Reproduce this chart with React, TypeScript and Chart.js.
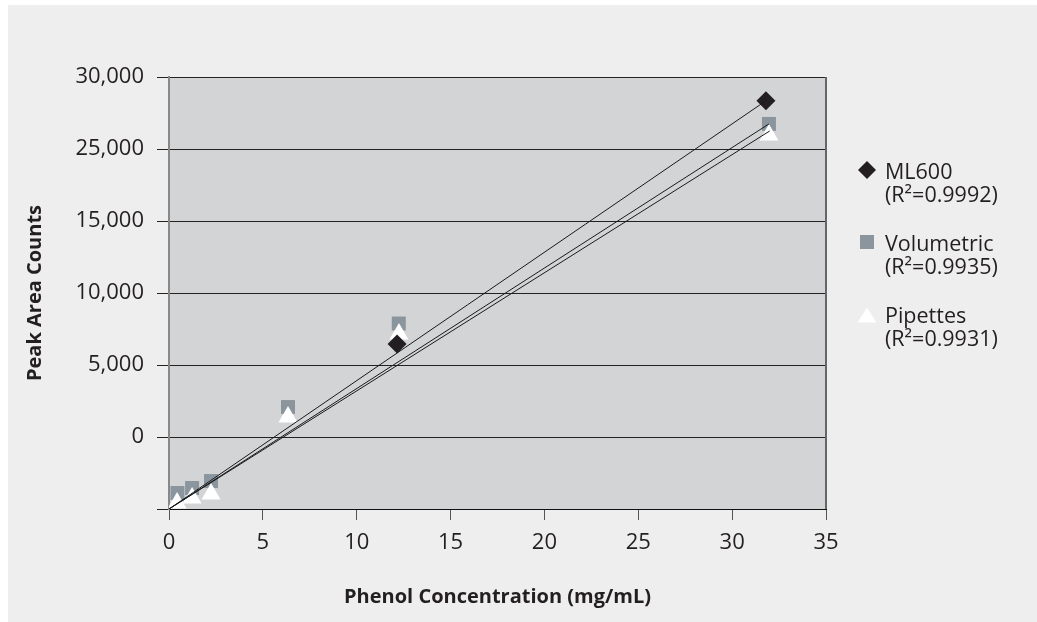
import React, { useEffect, useRef } from 'react';
import { Chart, registerables } from 'chart.js';

Chart.register(...registerables);

// Data (x: mg/mL, y: peak area counts on the plotted scale)
const ml600X = [12.15, 31.8];
const ml600Y = [11450, 28350];
const volX = [0.45, 1.23, 2.24, 6.34, 12.24, 31.96];
const volY = [1110, 1460, 1940, 7080, 12880, 26740];
const pipX = [0.43, 1.23, 2.24, 6.34, 12.25, 31.96];
const pipY = [420, 760, 1040, 6390, 12150, 25970];

// Trend lines (start, end)
const trendMLX = [0, 31.8];
const trendMLY = [0, 28350];
const trendVolX = [0, 31.96];
const trendVolY = [0, 26740];
const trendPipX = [0, 32.0];
const trendPipY = [0, 26250];

const yTickValues = [0, 5000, 10000, 15000, 20000, 25000, 30000];
const yTickLabels = ['', '0', '5,000', '10,000', '15,000', '25,000', '30,000'];
const xTickValues = [0, 5, 10, 15, 20, 25, 30, 35];

const legendNames = ['ML600', 'Volumetric', 'Pipettes'];
const legendR2 = ['(R\u00B2=0.9992)', '(R\u00B2=0.9935)', '(R\u00B2=0.9931)'];

const FONT = "'Open Sans', 'Noto Sans', sans-serif";
const TEXT = '#231f20';

const pts = (xs: number[], ys: number[]) => xs.map((x, i) => ({ x, y: ys[i] }));

const bgPlugin = {
  id: 'plotBg',
  beforeDraw(chart: any) {
    const { ctx, chartArea: a } = chart;
    ctx.save();
    ctx.fillStyle = '#d3d4d6';
    ctx.fillRect(a.left, a.top, a.right - a.left, a.bottom - a.top);
    ctx.restore();
  },
  afterDatasetsDraw(chart: any) {
    const { ctx, chartArea: a } = chart;
    ctx.save();
    ctx.strokeStyle = '#666';
    ctx.lineWidth = 2;
    ctx.beginPath();
    ctx.moveTo(a.right, a.top);
    ctx.lineTo(a.right, a.bottom);
    ctx.stroke();
    ctx.restore();
  },
};

export default function App() {
  const ref = useRef<HTMLCanvasElement>(null);

  useEffect(() => {
    if (!ref.current) return;
    const lineDs = (xs: number[], ys: number[]) => ({
      type: 'scatter' as const,
      data: pts(xs, ys),
      showLine: true,
      borderColor: '#1a1a1a',
      borderWidth: 1,
      pointRadius: 0,
      fill: false,
      order: -1,
    });
    const chart = new Chart(ref.current, {
      type: 'scatter',
      data: {
        datasets: [
          {
            label: 'ML600',
            data: pts(ml600X, ml600Y),
            pointStyle: 'rectRot',
            pointRadius: 9.5,
            backgroundColor: '#231f20',
            borderWidth: 0,
            order: 0,
          },
          {
            label: 'Pipettes',
            data: pts(pipX, pipY),
            pointStyle: 'triangle',
            pointRadius: 11,
            backgroundColor: '#ffffff',
            borderWidth: 0,
            order: 1,
          },
          {
            label: 'Volumetric',
            data: pts(volX, volY),
            pointStyle: 'rect',
            pointRadius: 9.9,
            backgroundColor: '#8a959e',
            borderWidth: 0,
            order: 2,
          },
          lineDs(trendMLX, trendMLY),
          lineDs(trendVolX, trendVolY),
          lineDs(trendPipX, trendPipY),
        ] as any,
      },
      options: {
        animation: false,
        responsive: false,
        devicePixelRatio: 1,
        layout: { padding: { left: 0, right: 211, top: 72, bottom: 0 } },
        plugins: { legend: { display: false }, tooltip: { enabled: false } },
        scales: {
          x: {
            type: 'linear',
            min: 0,
            max: 35,
            afterFit: (s: any) => { s.height = 113; },
            afterBuildTicks: (s: any) => { s.ticks = xTickValues.map((v) => ({ value: v })); },
            grid: { drawOnChartArea: false, drawTicks: true, tickLength: 11, color: '#555', lineWidth: 1 },
            border: { color: '#111', width: 1 },
            ticks: { font: { family: FONT, size: 22 }, color: TEXT, padding: 10, maxRotation: 0 },
            title: {
              display: true,
              text: 'Phenol Concentration (mg/mL)',
              font: { family: FONT, size: 20, weight: 'bold' },
              color: TEXT,
              padding: { top: 0, bottom: 13 },
            },
          },
          y: {
            type: 'linear',
            min: 0,
            max: 30000,
            afterFit: (s: any) => { s.width = 161; },
            afterBuildTicks: (s: any) => { s.ticks = yTickValues.map((v) => ({ value: v })); },
            grid: { color: '#222', lineWidth: 1, tickLength: 12, drawTicks: true },
            border: { color: '#888', width: 2 },
            ticks: {
              font: { family: FONT, size: 22 },
              color: TEXT,
              padding: 13,
              callback: (v: any) => {
                const i = yTickValues.indexOf(Number(v));
                return i >= 0 ? yTickLabels[i] : '';
              },
            },
            title: {
              display: true,
              text: 'Peak Area Counts',
              font: { family: FONT, size: 20, weight: 'bold' },
              color: TEXT,
              padding: { top: 15, bottom: 0 },
            },
          },
        },
      } as any,
      plugins: [bgPlugin],
    });
    return () => chart.destroy();
  }, []);

  const markerTop = [165, 237, 309.5];
  const marker = (i: number) => {
    if (i === 0)
      return <polygon points="9,0 18,9 9,18 0,9" fill="#231f20" />;
    if (i === 1) return <rect x="2" y="2" width="14" height="14" fill="#8a959e" />;
    return <polygon points="9,1.5 18.5,16.5 -0.5,16.5" fill="#ffffff" />;
  };

  return (
    <div
      style={{
        position: 'absolute',
        left: 8,
        top: 5,
        width: 1029,
        height: 617,
        background: '#eeeeee',
        overflow: 'hidden',
      }}
    >
      <canvas ref={ref} width={1029} height={617} style={{ display: 'block' }} />
      {legendNames.map((name, i) => (
        <React.Fragment key={name}>
          <svg
            width={18}
            height={18}
            viewBox="0 0 18 18"
            style={{ position: 'absolute', left: 859 - 9, top: markerTop[i] - 9, overflow: 'visible' }}
          >
            {marker(i)}
          </svg>
          <div
            style={{
              position: 'absolute',
              left: 877,
              top: markerTop[i] - 11.5,
              fontFamily: FONT,
              fontSize: 21.5,
              lineHeight: '23px',
              color: TEXT,
              whiteSpace: 'nowrap',
            }}
          >
            <div>{name}</div>
            <div>{legendR2[i]}</div>
          </div>
        </React.Fragment>
      ))}
    </div>
  );
}
